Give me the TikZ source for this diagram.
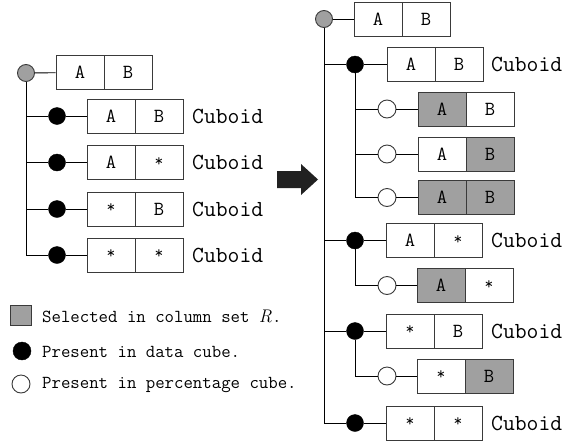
\documentclass[tikz,border=0pt]{standalone}
\usepackage{fontspec}
\definecolor{shade}{HTML}{A0A0A0}
\definecolor{edge}{HTML}{3A3A3A}
\tikzset{
  cell/.style={draw=edge, line width=0.9pt, minimum width=48pt, minimum height=34pt, inner sep=0pt, font=\ttfamily\fontsize{20}{20}\selectfont},
  gcell/.style={cell, fill=shade},
  rootdot/.style={circle, draw=edge, fill=shade, line width=0.9pt, minimum size=17pt, inner sep=0pt},
  datadot/.style={circle, draw=black, fill=black, minimum size=17pt, inner sep=0pt},
  pctdot/.style={circle, draw=edge, fill=white, line width=0.9pt, minimum size=18pt, inner sep=0pt},
  lbl/.style={anchor=west, inner sep=0pt, font=\ttfamily\fontsize{23}{23}\selectfont},
  legtext/.style={anchor=west, inner sep=0pt, font=\ttfamily\fontsize{18.3}{19}\selectfont},
  link/.style={draw=black, line width=0.9pt},
}
\newcommand{\astx}{\raisebox{1.5pt}{\fontsize{17}{17}\selectfont*}}
\begin{document}
\begin{tikzpicture}[x=1pt, y=-1pt]
\useasboundingbox (0,0) rectangle (564,442);

% ---------------- Left tree ----------------
\node[rootdot] (L0) at (26,73) {};
\node[cell] (L0a) at (80,72.5) {A};
\node[cell] (L0b) at (128,72.5) {B};
\draw[link] (L0) -- (L0a);

\foreach \n/\y/\l/\r in {1/116/A/B, 2/162.5/A/\astx, 3/209/\astx/B, 4/255/\astx/\astx} {
  \node[datadot] (Lc\n) at (57,\y) {};
  \node[cell] (Lc\n a) at (111,\y) {\l};
  \node[cell] (Lc\n b) at (159,\y) {\r};
  \node[lbl] (Lt\n) at (192,\y) {Cuboid};
  \draw[link] (Lc\n) -- (Lc\n a);
}
\draw[link] (L0) -- (L0 |- Lc4) -- (Lc4);
\foreach \n in {1,2,3} { \draw[link] (L0 |- Lc\n) -- (Lc\n); }

% ---------------- Arrow ----------------
\fill[fill=black!87] (277,171) -- (301,171) -- (301,164) -- (318,179.5) -- (301,195) -- (301,188) -- (277,188) -- cycle;

% ---------------- Right tree ----------------
\node[rootdot] (R0) at (324,19) {};
\node[cell] (R0a) at (378,19) {A};
\node[cell] (R0b) at (426,19) {B};
\draw[link] (R0) -- (R0a);

% row 1
\node[datadot] (R1) at (355,64.5) {};
\node[cell] (R1a) at (411,64.5) {A};
\node[cell] (R1b) at (459,64.5) {B};
\node[lbl] (R1t) at (491,64.5) {Cuboid};
\draw[link] (R1) -- (R1a);

\node[pctdot] (S1) at (387,109) {};
\node[gcell] (S1a) at (442,109) {A};
\node[cell] (S1b) at (490,109) {B};
\draw[link] (S1) -- (S1a);

\node[pctdot] (S2) at (387,154) {};
\node[cell] (S2a) at (442,154) {A};
\node[gcell] (S2b) at (490,154) {B};
\draw[link] (S2) -- (S2a);

\node[pctdot] (S3) at (387,197.5) {};
\node[gcell] (S3a) at (442,197.5) {A};
\node[gcell] (S3b) at (490,197.5) {B};
\draw[link] (S3) -- (S3a);

\draw[link] (R1) -- (R1 |- S3) -- (S3);
\draw[link] (R1 |- S1) -- (S1);
\draw[link] (R1 |- S2) -- (S2);

% row 2
\node[datadot] (R2) at (355,240.5) {};
\node[cell] (R2a) at (410,240.5) {A};
\node[cell] (R2b) at (458,240.5) {\astx};
\node[lbl] (R2t) at (491,240.5) {Cuboid};
\draw[link] (R2) -- (R2a);

\node[pctdot] (S4) at (387,285.5) {};
\node[gcell] (S4a) at (441,285.5) {A};
\node[cell] (S4b) at (489,285.5) {\astx};
\draw[link] (S4) -- (S4a);
\draw[link] (R2) -- (R2 |- S4) -- (S4);

% row 3
\node[datadot] (R3) at (355,331) {};
\node[cell] (R3a) at (410,331) {\astx};
\node[cell] (R3b) at (458,331) {B};
\node[lbl] (R3t) at (491,331) {Cuboid};
\draw[link] (R3) -- (R3a);

\node[pctdot] (S5) at (387,376) {};
\node[cell] (S5a) at (441,376) {\astx};
\node[gcell] (S5b) at (489,376) {B};
\draw[link] (S5) -- (S5a);
\draw[link] (R3) -- (R3 |- S5) -- (S5);

% row 4
\node[datadot] (R4) at (355,423) {};
\node[cell] (R4a) at (410,423) {\astx};
\node[cell] (R4b) at (458,423) {\astx};
\node[lbl] (R4t) at (491,423) {Cuboid};
\draw[link] (R4) -- (R4a);

\draw[link] (R0) -- (R0 |- R4) -- (R4);
\draw[link] (R0 |- R1) -- (R1);
\draw[link] (R0 |- R2) -- (R2);
\draw[link] (R0 |- R3) -- (R3);

% ---------------- Legend ----------------
\node[draw=edge, fill=shade, line width=0.9pt, minimum width=21pt, minimum height=20pt, inner sep=0pt] (K1) at (20.5,315) {};
\node[legtext] (K1t) at (42,316) {Selected in column set {\rmfamily\itshape R}.};
\node[datadot, minimum size=18pt] (K2) at (22,351) {};
\node[legtext] (K2t) at (42,352) {Present in data cube.};
\node[pctdot] (K3) at (21,384) {};
\node[legtext] (K3t) at (42,385) {Present in percentage cube.};
\end{tikzpicture}
\end{document}
